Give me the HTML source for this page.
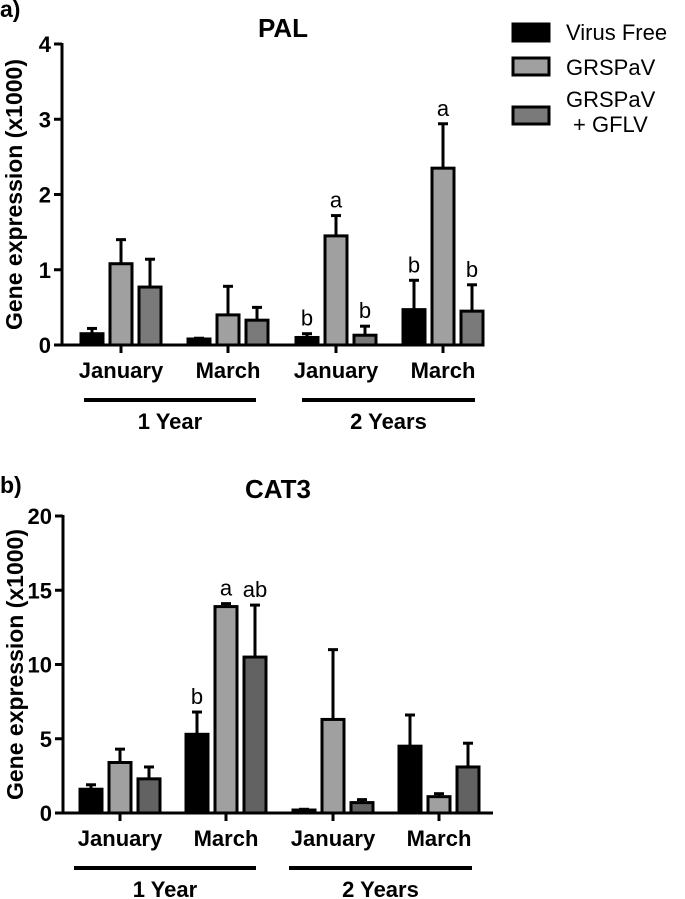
<!DOCTYPE html>
<html><head><meta charset="utf-8"><style>
html,body{margin:0;padding:0;background:#fff;}
svg{display:block;font-family:"Liberation Sans",Arial,sans-serif;}
</style></head><body>
<svg id="c" width="685" height="899" xmlns="http://www.w3.org/2000/svg"></svg>
<script>
const groups = ["January","March","January","March"];
const years = ["1 Year","2 Years"];
const series = ["Virus Free","GRSPaV","GRSPaV + GFLV"];
const palMeans = [[0.15,1.08,0.77],[0.08,0.40,0.33],[0.10,1.45,0.13],[0.47,2.35,0.45]];
const palErr = [[0.07,0.32,0.37],[0.01,0.38,0.17],[0.05,0.27,0.12],[0.39,0.59,0.35]];
const palLetters = [["","",""],["","",""],["b","a","b"],["b","a","b"]];
const palTicks = [0,1,2,3,4];
const catMeans = [[1.6,3.4,2.3],[5.3,13.9,10.5],[0.2,6.3,0.7],[4.5,1.1,3.1]];
const catErr = [[0.3,0.9,0.8],[1.5,0.2,3.5],[0.05,4.7,0.2],[2.1,0.2,1.6]];
const catLetters = [["","",""],["b","a","ab"],["","",""],["","",""]];
const catTicks = [0,5,10,15,20];

const svg = document.getElementById('c');
const NS = "http://www.w3.org/2000/svg";
function mk(tag, attrs, text){
  const e = document.createElementNS(NS, tag);
  for (const k in attrs) e.setAttribute(k, attrs[k]);
  if (text !== undefined) e.textContent = text;
  svg.appendChild(e); return e;
}

function chart(o){
  const y = v => o.y0 - (v - 0) / o.max * (o.y0 - o.yTop);
  const groupX = i => o.gx[i];
  let e;
  e = mk('text',{x:0,y:o.labY,'font-size':23,'font-weight':'bold'},o.panel);
  
  
  e = mk('text',{x:o.titleX,y:o.titleY,'font-size':26,'font-weight':'bold','text-anchor':'middle'},o.title);
  
  
  e = mk('text',{x:0,y:0,'font-size':23,'font-weight':'bold','text-anchor':'middle',transform:`translate(${o.ax-40},${(o.y0+o.yTop)/2}) rotate(-90)`},'Gene expression (x1000)');
  
  
  groups.forEach((g,gi)=>{
    for(let s=0;s<3;s++){
      const cx = groupX(gi) + (s-1)*29;
      const v = o.means[gi][s], er = o.err[gi][s];
      const top = y(v+er);
      e = mk('line',{x1:cx,x2:cx,y1:y(v),y2:top,stroke:'#000','stroke-width':3});
      
      
      e = mk('line',{x1:cx-5,x2:cx+5,y1:top,y2:top,stroke:'#000','stroke-width':3});
      
      
      e = mk('rect',{x:cx-11,y:y(v),width:22,height:o.y0-y(v),fill:o.colors[s],stroke:'#000','stroke-width':3});
      
      
      const L = o.letters[gi][s];
      if(L){
        e = mk('text',{x:cx,y:top-8,'font-size':22,'text-anchor':'middle'},L);
        
        
      }
    }
    e = mk('line',{x1:groupX(gi),x2:groupX(gi),y1:o.y0,y2:o.y0+8,stroke:'#000','stroke-width':3});
    
    
    e = mk('text',{x:groupX(gi),y:o.y0+33,'font-size':22,'font-weight':'bold','text-anchor':'middle'},g);
    
    
  });
  e = mk('line',{x1:o.ax,x2:o.ax,y1:o.yTop-1,y2:o.y0+1,stroke:'#000','stroke-width':3});
  
  
  e = mk('line',{x1:o.ax-1,x2:o.axR,y1:o.y0,y2:o.y0,stroke:'#000','stroke-width':3});
  
  
  o.ticks.forEach(t=>{
    e = mk('line',{x1:o.ax-8,x2:o.ax,y1:y(t),y2:y(t),stroke:'#000','stroke-width':3});
    
    
    e = mk('text',{x:o.ax-11,y:y(t)+8,'font-size':22,'font-weight':'bold','text-anchor':'end'},t);
    
    
  });
  years.forEach((yr,i)=>{
    const x1 = o.ul[i][0], x2 = o.ul[i][1];
    e = mk('line',{x1:x1,x2:x2,y1:o.y0+55,y2:o.y0+55,stroke:'#000','stroke-width':4});
    
    
    e = mk('text',{x:(x1+x2)/2,y:o.y0+84,'font-size':22,'font-weight':'bold','text-anchor':'middle'},yr);
    
    
  });
}

chart({id:'pal',panel:'a)',title:'PAL',labY:17,titleX:283,titleY:37,ax:62,axR:484,yTop:44,y0:345,max:4,
  gx:[121,228,336,443],means:palMeans,err:palErr,letters:palLetters,ticks:palTicks,
  colors:['#000','#a0a0a0','#7a7a7a'],ul:[[84,256],[302,475]]});
chart({id:'cat3',panel:'b)',title:'CAT3',labY:493,titleX:278,titleY:498,ax:63,axR:493,yTop:516,y0:813,max:20,
  gx:[120,226,333,439],means:catMeans,err:catErr,letters:catLetters,ticks:catTicks,
  colors:['#000','#a0a0a0','#626262'],ul:[[74,256],[289,472]]});

const legColors = ['#000','#a0a0a0','#7a7a7a'];
const legY = [23,57,106];
series.forEach((s,i)=>{
  let e = mk('rect',{x:513,y:legY[i]+1,width:36,height:17,fill:legColors[i],stroke:'#000','stroke-width':3});
  
  
});
let t;
t = mk('text',{x:566,y:40,'font-size':22},'Virus Free');


t = mk('text',{x:566,y:75,'font-size':22},'GRSPaV');


t = mk('text',{x:566,y:107,'font-size':22},'GRSPaV');


t = mk('text',{x:573,y:132,'font-size':22},'+ GFLV');


</script>
</body></html>
